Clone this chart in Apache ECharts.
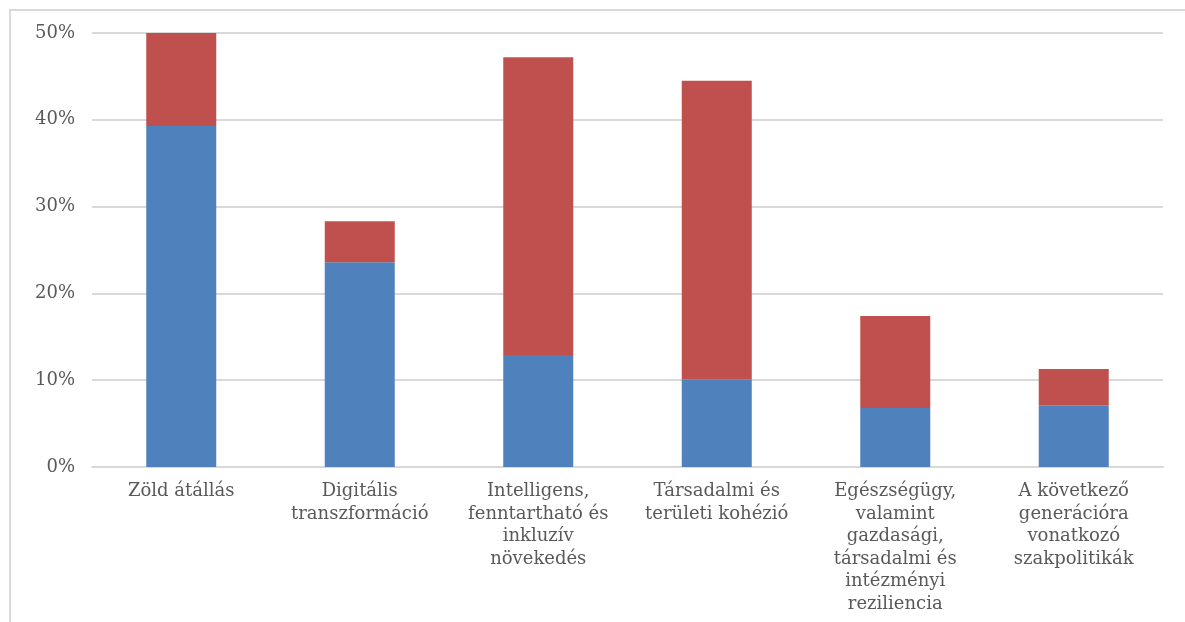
<!DOCTYPE html>
<html><head><meta charset="utf-8">
<script src="https://cdn.jsdelivr.net/npm/echarts@6/dist/echarts.min.js"></script>
<style>html,body{margin:0;padding:0;background:#fff}#c{width:1185px;height:622px}</style>
</head><body><div id="c"></div>
<script>
const categories = ["Zöld átállás","Digitális\ntranszformáció","Intelligens,\nfenntartható és\ninkluzív\nnövekedés","Társadalmi és\nterületi kohézió","Egészségügy,\nvalamint\ngazdasági,\ntársadalmi és\nintézményi\nreziliencia","A következő\ngenerációra\nvonatkozó\nszakpolitikák"];
const blueValues = [39.3, 23.6, 12.9, 10.1, 6.8, 7.1];
const redValues = [10.7, 4.7, 34.3, 34.4, 10.6, 4.2];
const yTicks = [0, 10, 20, 30, 40, 50];

const chart = echarts.init(document.getElementById('c'));
chart.setOption({
  animation: false,
  graphic: [{type:'polyline', shape:{points:[[10,622],[10,10],[1185,10]]}, style:{stroke:'#d9d9d9', lineWidth:2, fill:null}}],
  grid: {left: 92, right: 22, top: 33, bottom: 155},
  xAxis: {
    type: 'category', data: categories,
    axisLine: {lineStyle: {color: '#d9d9d9', width: 2}},
    axisTick: {show: false},
    axisLabel: {interval: 0, color: '#595959', fontFamily: 'DejaVu Serif', fontSize: 18, lineHeight: 22.6, margin: 13}
  },
  yAxis: {
    type: 'value', min: yTicks[0], max: yTicks[yTicks.length-1], interval: 10,
    axisLine: {show: false}, axisTick: {show: false},
    splitLine: {lineStyle: {color: '#d9d9d9', width: 2}},
    axisLabel: {formatter: v => v + '%', color: '#595959', fontFamily: 'DejaVu Serif', fontSize: 18, margin: 17}
  },
  series: [
    {type: 'bar', stack: 's', data: blueValues, barWidth: 70, itemStyle: {color: '#4f81bd'}},
    {type: 'bar', stack: 's', data: redValues, barWidth: 70, itemStyle: {color: '#c0504d'}}
  ]
});
</script></body></html>
